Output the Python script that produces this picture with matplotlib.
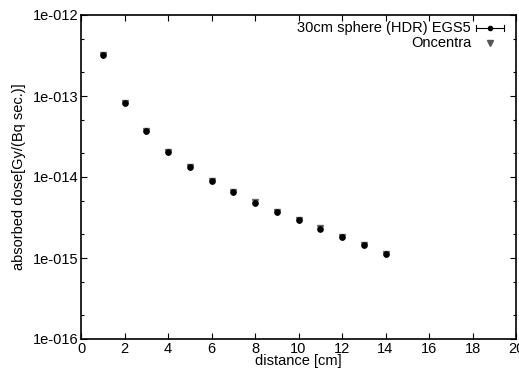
import matplotlib.pyplot as plt
from matplotlib.ticker import LogLocator, FixedLocator

plt.rcParams['font.family'] = ['Liberation Sans', 'DejaVu Sans']

distance = [1, 2, 3, 4, 5, 6, 7, 8, 9, 10, 11, 12, 13, 14]
egs5 = [3.2e-13, 8.2e-14, 3.7e-14, 2.05e-14, 1.33e-14, 8.9e-15, 6.5e-15,
        4.8e-15, 3.7e-15, 2.95e-15, 2.3e-15, 1.82e-15, 1.45e-15, 1.12e-15]
egs5_err = [v * 0.01 for v in egs5]
oncentra = [3.22e-13, 8.25e-14, 3.72e-14, 2.06e-14, 1.34e-14, 8.95e-15, 6.55e-15,
            4.85e-15, 3.72e-15, 2.97e-15, 2.32e-15, 1.84e-15, 1.46e-15, 1.13e-15]

fs = 10.5

fig = plt.figure(figsize=(5.19, 3.72), dpi=100)
ax = fig.add_axes([81 / 519, 1 - 339 / 372, 435 / 519, 324 / 372])

ax.plot(distance, oncentra, 'v', color='#666666', markersize=5,
        markerfacecolor='#555555', zorder=2)
ax.errorbar(distance, egs5, yerr=egs5_err, fmt='o', color='black',
            markersize=3.8, elinewidth=0.8, capsize=0, zorder=3)

ax.set_yscale('log')
ax.set_xlim(0, 20)
ax.set_ylim(1e-16, 1e-12)
ax.set_xticks(range(0, 21, 2))
ax.yaxis.set_major_locator(FixedLocator([1e-16, 1e-15, 1e-14, 1e-13, 1e-12]))
ax.yaxis.set_minor_locator(LogLocator(base=10, subs=(2.0, 5.0)))
ax.yaxis.set_minor_formatter(plt.NullFormatter())
ax.set_yticklabels(['1e-016', '1e-015', '1e-014', '1e-013', '1e-012'])

ax.tick_params(which='both', direction='in', top=True, right=True,
               labelsize=fs, pad=2, width=0.8)
ax.tick_params(which='major', length=4)
ax.tick_params(which='minor', length=2)
for s in ax.spines.values():
    s.set_linewidth(1.2)

ax.set_xlabel('distance [cm]', fontsize=fs, labelpad=-1)
ax.set_ylabel('absorbed dose[Gy/(Bq sec.)]', fontsize=fs, labelpad=5)

# gnuplot-style key, top right
tr = ax.transAxes
def ax_xy(px, py):
    return (px - 81) / 435, (339 - py) / 324

x0, y0 = ax_xy(471, 28)
ax.text(x0, y0, '30cm sphere (HDR) EGS5', transform=tr, ha='right',
        va='center', fontsize=fs)
xa, _ = ax_xy(476, 28)
xb, _ = ax_xy(504, 28)
xm, _ = ax_xy(490, 28)
ax.plot([xa, xb], [y0, y0], color='black', lw=0.8, transform=tr)
ax.plot([xa, xa], [y0 - 0.008, y0 + 0.008], color='black', lw=0.8, transform=tr)
ax.plot([xb, xb], [y0 - 0.008, y0 + 0.008], color='black', lw=0.8, transform=tr)
ax.plot([xm], [y0], 'o', color='black', markersize=3, transform=tr)

x1, y1 = ax_xy(471, 43)
ax.text(x1, y1, 'Oncentra', transform=tr, ha='right', va='center', fontsize=fs)
ax.plot([xm], [y1], 'v', color='#555555', markersize=4, transform=tr)

fig.savefig('out.png', dpi=100)
